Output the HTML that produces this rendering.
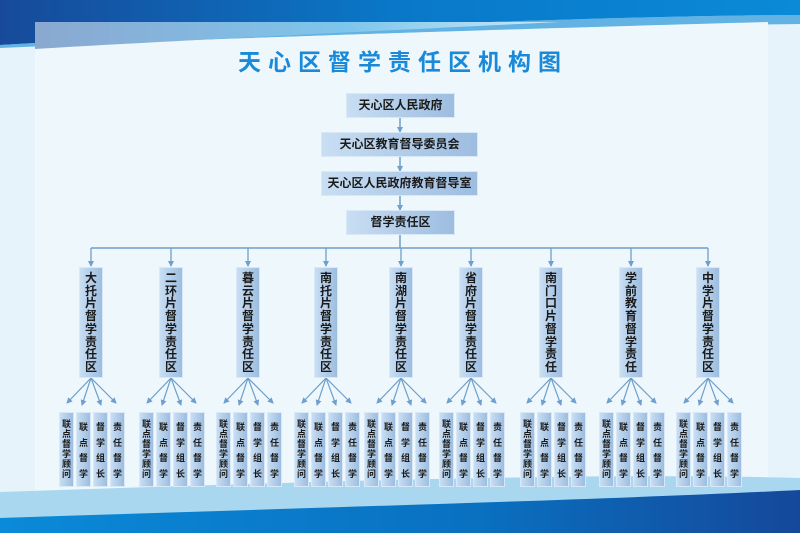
<!DOCTYPE html>
<html><head><meta charset="utf-8"><style>
body{margin:0;width:800px;height:533px;overflow:hidden;position:relative;font-family:"Liberation Sans","Noto Sans CJK SC",sans-serif;background:#e9f5fc}
.b{position:absolute;background:linear-gradient(90deg,#c8def3,#9dbde0);border:1px solid #d8e8f6;box-sizing:border-box;color:#1a1a1a;text-align:center}
.h{font-size:12px;line-height:23px;font-weight:bold}
.c{width:24px;font-size:12px;line-height:12.7px;padding-top:4px;font-weight:bold;top:267px;height:111px}
.l{top:412px;height:75px;width:15px;font-size:9px;padding-top:7px;line-height:15.5px;font-weight:bold}
.l6{line-height:10px;padding-top:6px}
svg{position:absolute;left:0;top:0}
</style></head><body>
<svg width="800" height="533">
<defs>
<linearGradient id="t" x1="0" x2="1"><stop offset="0" stop-color="#174a9a"/><stop offset=".5" stop-color="#0a78c8"/><stop offset="1" stop-color="#0a8ad8"/></linearGradient>
<linearGradient id="t2" x1="0" x2="1"><stop offset="0" stop-color="#8aa8d0"/><stop offset=".6" stop-color="#7ec6ec"/><stop offset="1" stop-color="#cde9f7"/></linearGradient>
<linearGradient id="bt" x1="0" x2="1"><stop offset="0" stop-color="#0a8ad8"/><stop offset=".6" stop-color="#0a70c0"/><stop offset="1" stop-color="#15489a"/></linearGradient>
<marker id="m" markerWidth="6" markerHeight="6" refX="5" refY="3" orient="auto" markerUnits="userSpaceOnUse"><path d="M0 0L6 3L0 6Z" fill="#6f9fcc"/></marker>
</defs>
<rect width="800" height="533" fill="#e6f3fb"/>
<path d="M0 0H800V15C600 16 300 28 0 45Z" fill="url(#t)"/>
<path d="M0 45C300 28 600 16 800 15V24C600 26 300 35 0 48Z" fill="#0a88d5" opacity=".6"/>
<path d="M35 46C150 42 330 34 768 22V493H35Z" fill="#eef7fc"/>
<path d="M35 22H560C330 33 150 42 35 49Z" fill="url(#t2)"/>
<path d="M0 533V492C300 482 600 472 800 478V533Z" fill="#a8d7ef"/>
<path d="M0 533V518C300 508 600 500 800 490V533Z" fill="url(#bt)"/>
<g stroke="#6f9fcc" stroke-width="1.5" fill="none">
<line x1="400" y1="118" x2="400" y2="132" marker-end="url(#m)"/><line x1="400" y1="157" x2="400" y2="171" marker-end="url(#m)"/><line x1="400" y1="196" x2="400" y2="210" marker-end="url(#m)"/><line x1="400" y1="235" x2="400" y2="248"/>
<line x1="91" y1="248" x2="708" y2="248"/>
</g>
<g stroke="#6f9fcc" stroke-width="1.3" fill="none" marker-end="url(#m)">
<path d="M91 248V266"/><path d="M171 248V266"/><path d="M248 248V266"/><path d="M326 248V266"/><path d="M401 248V266"/><path d="M471 248V266"/><path d="M551 248V266"/><path d="M631 248V266"/><path d="M708 248V266"/>
</g>
<g stroke="#6f9fcc" stroke-width="1.2" fill="none" marker-end="url(#m)">
<path d="M91 378L67 403"/><path d="M91 378L82 405"/><path d="M91 378L101 405"/><path d="M91 378L116 403"/>
<path d="M171 378L147 403"/><path d="M171 378L162 405"/><path d="M171 378L181 405"/><path d="M171 378L196 403"/>
<path d="M248 378L224 403"/><path d="M248 378L239 405"/><path d="M248 378L258 405"/><path d="M248 378L273 403"/>
<path d="M326 378L302 403"/><path d="M326 378L317 405"/><path d="M326 378L336 405"/><path d="M326 378L351 403"/>
<path d="M401 378L377 403"/><path d="M401 378L392 405"/><path d="M401 378L411 405"/><path d="M401 378L426 403"/>
<path d="M471 378L447 403"/><path d="M471 378L462 405"/><path d="M471 378L481 405"/><path d="M471 378L496 403"/>
<path d="M551 378L527 403"/><path d="M551 378L542 405"/><path d="M551 378L561 405"/><path d="M551 378L576 403"/>
<path d="M631 378L607 403"/><path d="M631 378L622 405"/><path d="M631 378L641 405"/><path d="M631 378L656 403"/>
<path d="M708 378L684 403"/><path d="M708 378L699 405"/><path d="M708 378L718 405"/><path d="M708 378L733 403"/>
</g>
<text x="403" y="70" text-anchor="middle" font-size="23" font-weight="bold" fill="#1a8ad8" letter-spacing="7" font-family="Liberation Sans,Noto Sans CJK SC,sans-serif">天心区督学责任区机构图</text>
</svg>
<div class="b h" style="left:346px;top:93px;width:109px;height:25px">天心区人民政府</div>
<div class="b h" style="left:321px;top:132px;width:157px;height:25px">天心区教育督导委员会</div>
<div class="b h" style="left:321px;top:171px;width:157px;height:25px">天心区人民政府教育督导室</div>
<div class="b h" style="left:346px;top:210px;width:109px;height:25px">督学责任区</div>

<div class="b c" style="left:79px">大托片督学责任区</div>
<div class="b c" style="left:159px">二环片督学责任区</div>
<div class="b c" style="left:236px">暮云片督学责任区</div>
<div class="b c" style="left:314px">南托片督学责任区</div>
<div class="b c" style="left:389px">南湖片督学责任区</div>
<div class="b c" style="left:459px">省府片督学责任区</div>
<div class="b c" style="left:539px">南门口片督学责任</div>
<div class="b c" style="left:619px">学前教育督学责任</div>
<div class="b c" style="left:696px">中学片督学责任区</div>

<div class="b l l6" style="left:59px">联点督学顾问</div><div class="b l" style="left:76px">联点督学</div><div class="b l" style="left:93px">督学组长</div><div class="b l" style="left:110px">责任督学</div>
<div class="b l l6" style="left:139px">联点督学顾问</div><div class="b l" style="left:156px">联点督学</div><div class="b l" style="left:173px">督学组长</div><div class="b l" style="left:190px">责任督学</div>
<div class="b l l6" style="left:216px">联点督学顾问</div><div class="b l" style="left:233px">联点督学</div><div class="b l" style="left:250px">督学组长</div><div class="b l" style="left:267px">责任督学</div>
<div class="b l l6" style="left:294px">联点督学顾问</div><div class="b l" style="left:311px">联点督学</div><div class="b l" style="left:328px">督学组长</div><div class="b l" style="left:345px">责任督学</div>
<div class="b l l6" style="left:364px">联点督学顾问</div><div class="b l" style="left:381px">联点督学</div><div class="b l" style="left:398px">督学组长</div><div class="b l" style="left:415px">责任督学</div>
<div class="b l l6" style="left:439px">联点督学顾问</div><div class="b l" style="left:456px">联点督学</div><div class="b l" style="left:473px">督学组长</div><div class="b l" style="left:490px">责任督学</div>
<div class="b l l6" style="left:520px">联点督学顾问</div><div class="b l" style="left:537px">联点督学</div><div class="b l" style="left:554px">督学组长</div><div class="b l" style="left:571px">责任督学</div>
<div class="b l l6" style="left:599px">联点督学顾问</div><div class="b l" style="left:616px">联点督学</div><div class="b l" style="left:633px">督学组长</div><div class="b l" style="left:650px">责任督学</div>
<div class="b l l6" style="left:676px">联点督学顾问</div><div class="b l" style="left:693px">联点督学</div><div class="b l" style="left:710px">督学组长</div><div class="b l" style="left:727px">责任督学</div>
</body></html>
